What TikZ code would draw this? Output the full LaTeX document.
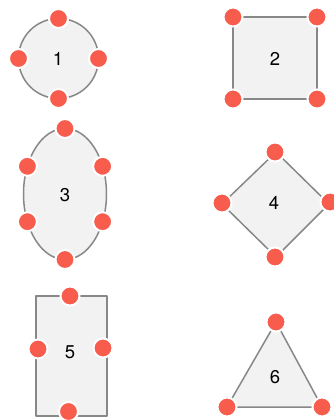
\documentclass[tikz,border=0pt]{standalone}
\usepackage{fontspec}
\setmainfont{TeX Gyre Heros}
\usetikzlibrary{calc}
\definecolor{shapefill}{HTML}{F2F2F2}
\definecolor{shapeline}{HTML}{888888}
\definecolor{handlered}{HTML}{F75C4C}
\begin{document}
\begin{tikzpicture}[x=1pt,y=-1pt,
  shapebody/.style={fill=shapefill, draw=shapeline, line width=1.5pt, line join=round},
  handle/.style={circle, fill=handlered, draw=white, line width=2pt, minimum size=19pt, inner sep=0pt},
  lbl/.style={inner sep=0pt, font=\fontsize{18.5}{22}\selectfont}]
\useasboundingbox (0,0) rectangle (334,420);

% 1: circle with four handles
\coordinate (c1) at (58.5,58.5);
\draw[shapebody] (c1) circle[radius=40];
\node[lbl] (t1) at (58,59) {1};
\foreach \a [count=\i] in {90,0,180,270}
  \node[handle] (h1-\i) at ($(c1)+(\a:40)$) {};

% 2: square with corner handles
\draw[shapebody] (233,17) rectangle (317,99);
\node[lbl] (t2) at (275,59) {2};
\foreach \p [count=\i] in {(233,17),(317,17),(233,99),(317,99)}
  \node[handle] (h2-\i) at \p {};

% 3: ellipse with six handles
\coordinate (c3) at (65,194);
\draw[shapebody] (c3) ellipse[x radius=41.5, y radius=65.5];
\node[lbl] (t3) at (65,195) {3};
\foreach \a [count=\i] in {90,270,25,155,205,335}
  \node[handle] (h3-\i) at ($(c3)+({41.5*cos(\a)},{65.5*sin(\a)})$) {};

% 4: diamond
\draw[shapebody] (276,152) -- (329,204) -- (276,257) -- (222,204) -- cycle;
\node[lbl] (t4) at (274,203) {4};
\foreach \p [count=\i] in {(275,152),(330,202),(275,257),(222,203)}
  \node[handle] (h4-\i) at \p {};

% 5: tall rectangle
\draw[shapebody] (36,296) rectangle (107,416);
\node[lbl] (t5) at (70,352) {5};
\foreach \p [count=\i] in {(70,296),(38,349),(103,348),(68.5,411.5)}
  \node[handle] (h5-\i) at \p {};

% 6: triangle
\draw[shapebody] (276,322) -- (322,407) -- (227,407) -- cycle;
\node[lbl] (t6) at (275,377) {6};
\foreach \p [count=\i] in {(276,322),(227,407),(322,407)}
  \node[handle] (h6-\i) at \p {};
\end{tikzpicture}
\end{document}
